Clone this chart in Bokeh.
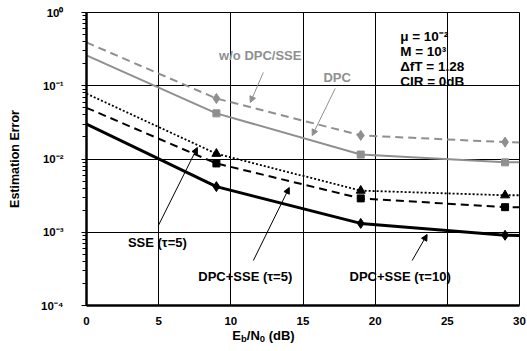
from bokeh.plotting import figure
from bokeh.layouts import column
from bokeh.models import Label, Arrow, NormalHead, FixedTicker, LogTicker, Div
from bokeh.embed import file_html
from bokeh.resources import INLINE

FONT = "Liberation Sans"
GRAY = "#8f8f8f"

# ---- data ----
ebn0 = [0, 9, 19, 29, 30]
wo_dpc_sse = [0.39, 0.067, 0.021, 0.017, 0.0168]
dpc = [0.26, 0.042, 0.0115, 0.0090, 0.0090]
sse_t5 = [0.078, 0.0118, 0.0037, 0.0032, 0.0032]
dpc_sse_t5 = [0.050, 0.0087, 0.0029, 0.0022, 0.0022]
dpc_sse_t10 = [0.030, 0.0042, 0.00132, 0.00091, 0.0009]
marker_idx = slice(1, 4)

x_ticks = [0, 5, 10, 15, 20, 25, 30]
y_tick_labels = {1: "10⁰", 0.1: "10⁻¹", 0.01: "10⁻²", 0.001: "10⁻³", 0.0001: "10⁻⁴"}
params = ["μ  = 10⁻²", "M = 10³", "ΔfT = 1.28", "CIR = 0dB"]

p = figure(width=527, height=328, x_range=(0, 30), y_range=(1e-4, 1),
           y_axis_type="log", output_backend="svg", toolbar_location=None,
           min_border_left=86, min_border_right=8, min_border_top=12, min_border_bottom=23)
p.outline_line_color = "black"
p.outline_line_width = 1

# axes
p.xaxis.ticker = FixedTicker(ticks=x_ticks)
p.yaxis.ticker = LogTicker(num_minor_ticks=10)
p.yaxis.major_label_overrides = y_tick_labels
for ax in (p.xaxis[0], p.yaxis[0]):
    ax.axis_line_color = "black"
    ax.axis_line_width = 2.5
    ax.major_tick_in = 0
    ax.major_label_text_font = FONT
    ax.major_label_text_font_style = "bold"
    ax.major_label_text_font_size = "11.5px"
    ax.major_label_text_color = "black"
p.xaxis.major_tick_out = 0
p.xaxis.minor_tick_out = 0
p.xaxis.minor_tick_in = 0
p.yaxis.major_tick_out = 5
p.yaxis.major_tick_line_color = "black"
p.yaxis.minor_tick_in = 0
p.yaxis.minor_tick_out = 4
p.yaxis.minor_tick_line_color = "black"
p.xaxis.major_label_standoff = 11
p.yaxis.major_label_standoff = 18
p.yaxis.axis_label = "Estimation Error"
p.yaxis.axis_label_text_font = FONT
p.yaxis.axis_label_text_font_style = "bold"
p.yaxis.axis_label_text_font_size = "12.5px"
p.yaxis.axis_label_text_color = "black"
p.yaxis.axis_label_standoff = 16

p.xgrid.ticker = FixedTicker(ticks=x_ticks)
p.xgrid.grid_line_color = "black"
p.ygrid.grid_line_color = "black"

# white boxes behind annotation texts (drawn over the grid, under the series)
box_l = [8.6, 15.7, 21.18, 2.0, 7.2]
box_r = [15.5, 19.3, 28.17, 8.1, 26.6]
box_b = [0.172, 0.086, 0.0573, 4.82e-4, 1.6e-4]
box_t = [0.366, 0.189, 0.828, 1.236e-3, 4.11e-4]
p.quad(left=box_l, right=box_r, bottom=box_b, top=box_t, fill_color="white",
       line_color=None, level="underlay")

# series
p.line(ebn0, wo_dpc_sse, line_color=GRAY, line_width=2, line_dash="8 5")
p.scatter(ebn0[marker_idx], wo_dpc_sse[marker_idx], marker="diamond", size=10, color=GRAY)
p.line(ebn0, dpc, line_color=GRAY, line_width=2)
p.scatter(ebn0[marker_idx], dpc[marker_idx], marker="square", size=7, color=GRAY)
p.line(ebn0, sse_t5, line_color="black", line_width=1.8, line_dash="2 2")
p.scatter(ebn0[marker_idx], sse_t5[marker_idx], marker="triangle", size=9, color="black")
p.line(ebn0, dpc_sse_t5, line_color="black", line_width=2, line_dash="8 5")
p.scatter(ebn0[marker_idx], dpc_sse_t5[marker_idx], marker="square", size=7, color="black")
p.line(ebn0, dpc_sse_t10, line_color="black", line_width=3)
p.scatter(ebn0[marker_idx], dpc_sse_t10[marker_idx], marker="diamond", size=10, color="black")

# arrows
for (x0, y0, x1, y1, c) in [(12.25, 0.152, 11.35, 0.059, GRAY),
                            (17.23, 0.0918, 15.64, 0.0209, GRAY),
                            (4.98, 1.236e-3, 7.68, 0.01436, "black"),
                            (11.56, 4.11e-4, 14.05, 4.08e-3, "black"),
                            (22.56, 4.11e-4, 23.6, 9.31e-4, "black")]:
    p.add_layout(Arrow(end=NormalHead(size=6, fill_color=c, line_color=c),
                       x_start=x0, y_start=y0, x_end=x1, y_end=y1,
                       line_color=c, line_width=1))

def lab(x, y, text, color="black", align="center", size="13px"):
    p.add_layout(Label(x=x, y=y, text=text, text_font=FONT, text_font_style="bold",
                       text_font_size=size, text_color=color, text_align=align,
                       text_baseline="middle"))

lab(12.04, 0.259, "w/o DPC/SSE", GRAY)
lab(17.37, 0.130, "DPC", GRAY)
for txt, yy in zip(params, [0.470, 0.294, 0.183, 0.114]):
    lab(21.73, yy, txt, align="left", size="13.5px")
lab(4.91, 7.24e-4, "SSE (τ=5)")
lab(11.0, 2.49e-4, "DPC+SSE (τ=5)")
lab(21.73, 2.49e-4, "DPC+SSE (τ=10)")

# x-axis title with subscripts (centred under the plot frame)
xlabel = Div(
    text=('<div style="font-family:\'Liberation Sans\',Arial,sans-serif;font-weight:bold;'
          'font-size:13px;line-height:14px;color:black;text-align:center;'
          'padding-left:73px;width:454px;">'
          'E<sub style="font-size:9.5px;vertical-align:-2px;line-height:0">b</sub>/N'
          '<sub style="font-size:9.5px;vertical-align:-2px;line-height:0">0</sub>&nbsp;(dB)</div>'),
    width=527, height=15, margin=(0, 0, 0, 0))

layout = column(p, xlabel, spacing=0)
open("out.html", "w").write(file_html(layout, INLINE))
